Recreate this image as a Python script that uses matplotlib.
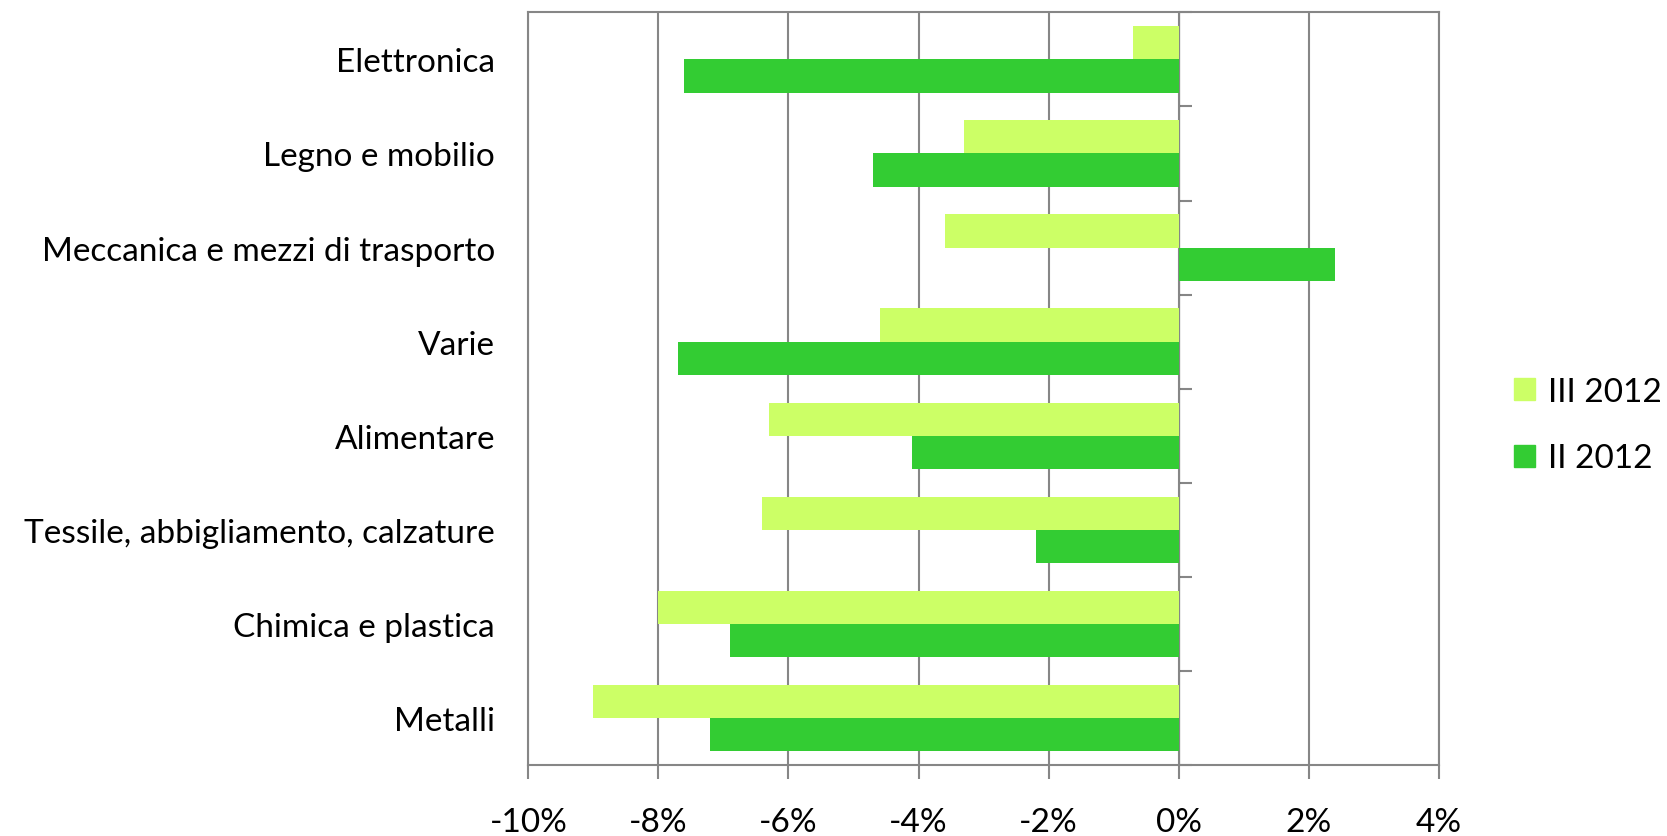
import numpy as np
import matplotlib.pyplot as plt
from matplotlib.patches import Patch

plt.rcParams["font.family"] = ["Lato", "DejaVu Sans"]

# sectors, listed top to bottom
SECTORS = [
    "Elettronica",
    "Legno e mobilio",
    "Meccanica e mezzi di trasporto",
    "Varie",
    "Alimentare",
    "Tessile, abbigliamento, calzature",
    "Chimica e plastica",
    "Metalli",
]
III_2012 = [-0.7, -3.3, -3.6, -4.6, -6.3, -6.4, -8.0, -9.0]
II_2012 = [-7.6, -4.7, 2.4, -7.7, -4.1, -2.2, -6.9, -7.2]
SERIES_NAMES = ["III 2012", "II 2012"]
XTICKS = [-10, -8, -6, -4, -2, 0, 2, 4]

C_III = "#ccff66"
C_II = "#33cc33"
GRID = "#868686"
FS = 24

fig = plt.figure(figsize=(16.67, 8.37), dpi=100)
ax = fig.add_axes([0.317, 0.085, 0.546, 0.899])

n = len(SECTORS)
y = np.arange(n)[::-1].astype(float)      # first sector at the top
h = 0.352
ax.barh(y + h / 2, III_2012, height=h, color=C_III, zorder=3)
ax.barh(y - h / 2, II_2012, height=h, color=C_II, zorder=3)

ax.set_xlim(-10, 4)
ax.set_ylim(-0.5, n - 0.5)
ax.set_xticks(XTICKS)
ax.set_xticklabels([f"{v}%" for v in XTICKS], fontsize=FS)
ax.grid(axis="x", color=GRID, lw=1.5, zorder=1)
ax.tick_params(axis="x", direction="out", length=10, width=1.5, color=GRID, pad=20)

ax.set_yticks(y)
ax.set_yticklabels(SECTORS, fontsize=FS)
ax.tick_params(axis="y", length=0, pad=24)

for s in ax.spines.values():
    s.set_color(GRID)
    s.set_linewidth(1.5)

# category axis crossing at 0% with ticks between sectors
zero_pos = (0 - (-10)) / 14
cat = ax.secondary_yaxis(zero_pos)
cat.set_yticks(np.arange(n + 1) - 0.5)
cat.set_yticklabels([])
cat.tick_params(axis="y", direction="out", length=9, width=1.5, color=GRID)
cat.spines["left"].set_color(GRID)
cat.spines["left"].set_linewidth(1.5)

handles = [Patch(color=C_III, label=SERIES_NAMES[0]),
           Patch(color=C_II, label=SERIES_NAMES[1])]
fig.legend(handles=handles, loc="center left", bbox_to_anchor=(0.908, 0.491),
           frameon=False, fontsize=FS, handlelength=0.64, handleheight=0.64,
           handletextpad=0.38, labelspacing=1.1, borderpad=0, borderaxespad=0)

fig.savefig("out.png", dpi=100)
